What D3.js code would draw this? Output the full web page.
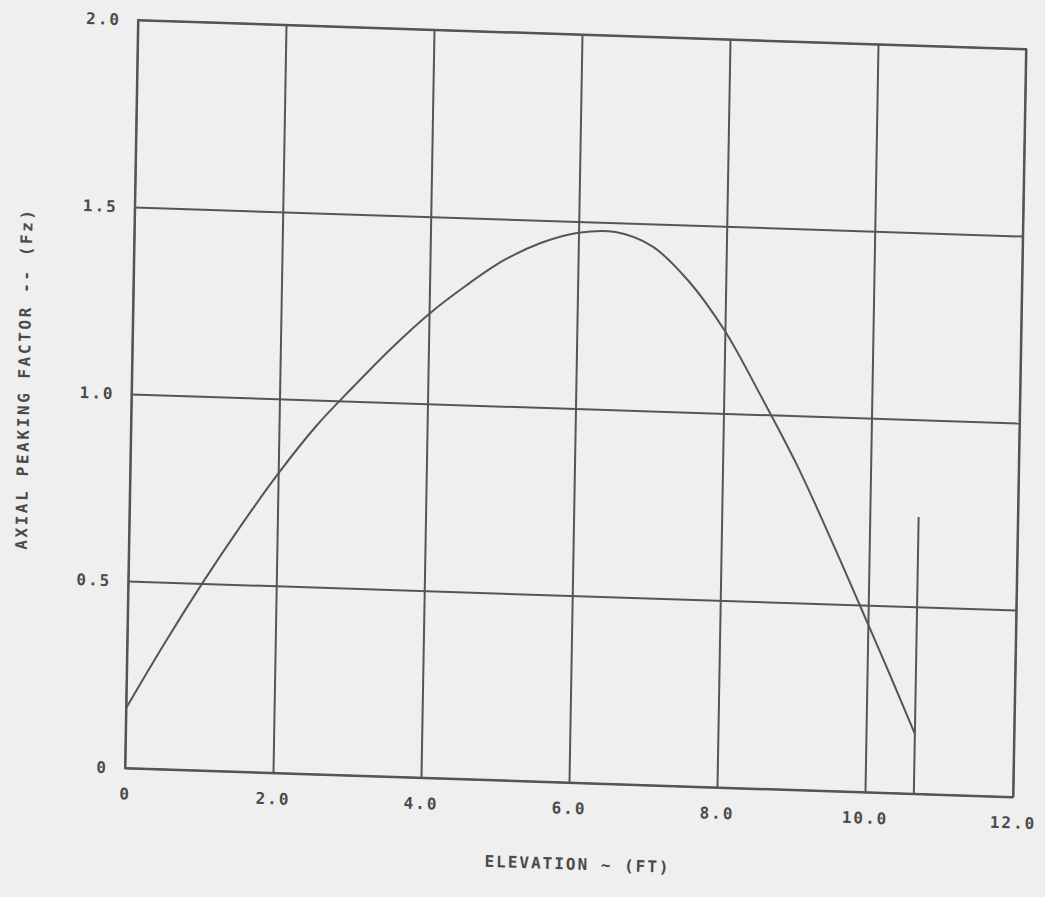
<!DOCTYPE html>
<html>
<head>
<meta charset="utf-8">
<script src="https://cdn.jsdelivr.net/npm/d3@7"></script>
<style>
  html, body { margin: 0; padding: 0; background: #efefef; }
  #chart_id text { font-family: "DejaVu Sans Mono", monospace; font-weight: bold; fill: #4a4a4a; }
</style>
</head>
<body>
<div id="chart_id"></div>
<script>
// data
var elevation = [0, 0.5, 1.0, 1.5, 2.0, 2.5, 3.0, 3.5, 4.0, 4.5, 5.0, 5.5, 6.0, 6.5, 7.0, 7.5, 8.0, 8.5, 9.0, 9.5, 10.0, 10.3, 10.66];
var peaking   = [0.16, 0.335, 0.50, 0.655, 0.80, 0.93, 1.04, 1.145, 1.24, 1.32, 1.39, 1.44, 1.47, 1.475, 1.44, 1.35, 1.22, 1.05, 0.87, 0.665, 0.45, 0.32, 0.16];
var coreTop = [10.66];          // vertical marker at end of curve
var coreTopHeight = [0.74];
var xTicks = [0, 2, 4, 6, 8, 10, 12];
var xTickLabels = ["0", "2.0", "4.0", "6.0", "8.0", "10.0", "12.0"];
var yTicks = [0, 0.5, 1.0, 1.5, 2.0];
var yTickLabels = ["0", "0.5", "1.0", "1.5", "2.0"];

// plot box size (before the scan skew is applied)
var width = 888, height = 748;
var ink = "#555";

var svg = d3.select("#chart_id")
  .append("svg")
    .attr("width", 1045)
    .attr("height", 897);

// the page was scanned slightly crooked, so skew the whole plot
var g = svg.append("g")
    .attr("transform", "matrix(1,0.0327,-0.0174,1,138,20)");

var x = d3.scaleLinear().domain([0, 12]).range([0, width]);
var y = d3.scaleLinear().domain([0, 2]).range([height, 0]);

// vertical grid + x labels
var xAxis = g.append("g")
    .attr("transform", "translate(0," + height + ")")
    .call(d3.axisBottom(x)
      .tickValues(xTicks)
      .tickSize(-height)
      .tickPadding(20)
      .tickFormat(function(d, i) { return xTickLabels[i]; }));

// horizontal grid + y labels
var yAxis = g.append("g")
    .call(d3.axisLeft(y)
      .tickValues(yTicks)
      .tickSize(-width)
      .tickPadding(17)
      .tickFormat(function(d, i) { return yTickLabels[i]; }));

g.selectAll(".domain").remove();
g.selectAll(".tick line")
    .style("stroke", ink)
    .style("stroke-width", 2);
g.selectAll(".tick text")
    .style("font-size", "16px")
    .style("letter-spacing", "2px");

// outer frame
g.append("rect")
    .attr("x", x(0))
    .attr("y", y(2))
    .attr("width", x(12) - x(0))
    .attr("height", y(0) - y(2))
    .style("fill", "none")
    .style("stroke", ink)
    .style("stroke-width", 2);

// the Fz curve
var line = d3.line()
    .x(function(d, i) { return x(elevation[i]); })
    .y(function(d) { return y(d); })
    .curve(d3.curveCatmullRom.alpha(0.5));

g.append("path")
    .datum(peaking)
    .attr("d", line)
    .style("fill", "none")
    .style("stroke", ink)
    .style("stroke-width", 2);

// vertical line at top of core
g.selectAll(".coretop")
    .data(coreTop)
    .enter()
    .append("line")
      .attr("class", "coretop")
      .attr("x1", function(d) { return x(d); })
      .attr("x2", function(d) { return x(d); })
      .attr("y1", y(0))
      .attr("y2", function(d, i) { return y(coreTopHeight[i]); })
      .style("stroke", ink)
      .style("stroke-width", 2);

// x axis title
g.append("text")
    .attr("x", width / 2 + 10)
    .attr("y", height + 87)
    .attr("text-anchor", "middle")
    .style("font-size", "16px")
    .style("letter-spacing", "2px")
    .text("ELEVATION ~ (FT)");

// y axis title
g.append("text")
    .attr("transform", "rotate(-90)")
    .attr("x", -(height / 2) + 12)
    .attr("y", -102)
    .attr("text-anchor", "middle")
    .style("font-size", "16px")
    .style("letter-spacing", "2.6px")
    .text("AXIAL PEAKING FACTOR -- (Fz)");
</script>
</body>
</html>
